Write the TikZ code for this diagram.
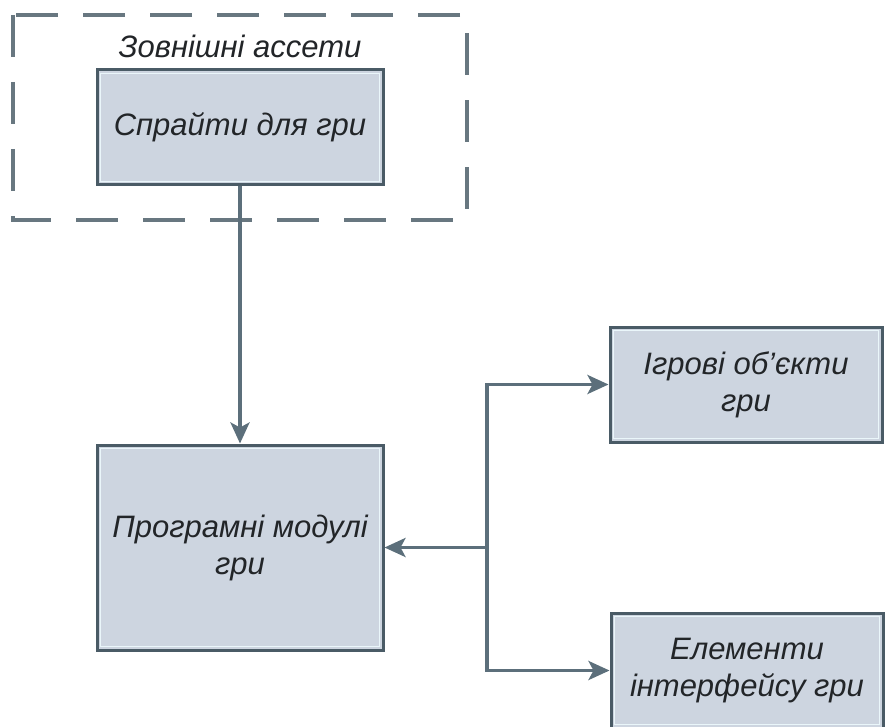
\documentclass[tikz,border=0pt]{standalone}
\usepackage{fontspec}
\setmainfont{Liberation Sans}
\usetikzlibrary{arrows.meta}
\definecolor{boxfill}{HTML}{CDD5E0}
\definecolor{boxedge}{HTML}{4A5B66}
\definecolor{boxshine}{HTML}{EAF6FA}
\definecolor{linkcol}{HTML}{5C6F7B}
\definecolor{framecol}{HTML}{687780}
\definecolor{textcol}{HTML}{222528}
\tikzset{
  blockbox/.style={draw=boxedge, fill=boxfill, line width=3pt, align=center,
    inner sep=0pt, text=textcol, font=\itshape\fontsize{31}{37}\selectfont,
    path picture={\draw[boxshine, line width=1.3pt]
      ([shift={(3.5pt,-3.5pt)}]path picture bounding box.north west) rectangle
      ([shift={(-3.5pt,3.5pt)}]path picture bounding box.south east);}},
  link/.style={draw=linkcol, line width=3.5pt,
    -{Stealth[length=21pt, width=19pt, inset=5pt]}},
  groupframe/.style={draw=framecol, line width=3.2pt, dash pattern=on 42pt off 25pt},
  grouplabel/.style={text=textcol, font=\itshape\fontsize{31}{36}\selectfont}
}
\begin{document}
\begin{tikzpicture}[x=1pt, y=-1pt]
  \useasboundingbox (0,0) rectangle (885,727);
  \clip (0,0) rectangle (885,727);

  % group of external assets
  \draw[groupframe] (13,15) rectangle (467,220);
  \node[grouplabel] (assets) at (240,46) {Зовнішні ассети};

  % blocks
  \node[blockbox, minimum width=286pt, minimum height=115pt] (sprites) at (240,127.5) {Спрайти для гри};
  \node[blockbox, minimum width=286pt, minimum height=205pt] (modules) at (240,547.5) {Програмні модулі\\гри};
  \node[blockbox, minimum width=272pt, minimum height=115pt] (objects) at (746,384.5) {Ігрові об’єкти\\гри};
  \node[blockbox, minimum width=272pt, minimum height=115pt] (ui) at (747,670.5) {Елементи\\інтерфейсу гри};

  % connectors
  \coordinate (hub) at (487,547.5);
  \draw[link] (sprites.south) -- (modules.north);
  \draw[link] (hub) -- (modules.east);
  \draw[link] (hub) |- (objects.west);
  \draw[link] (hub) |- (ui.west);
\end{tikzpicture}
\end{document}
